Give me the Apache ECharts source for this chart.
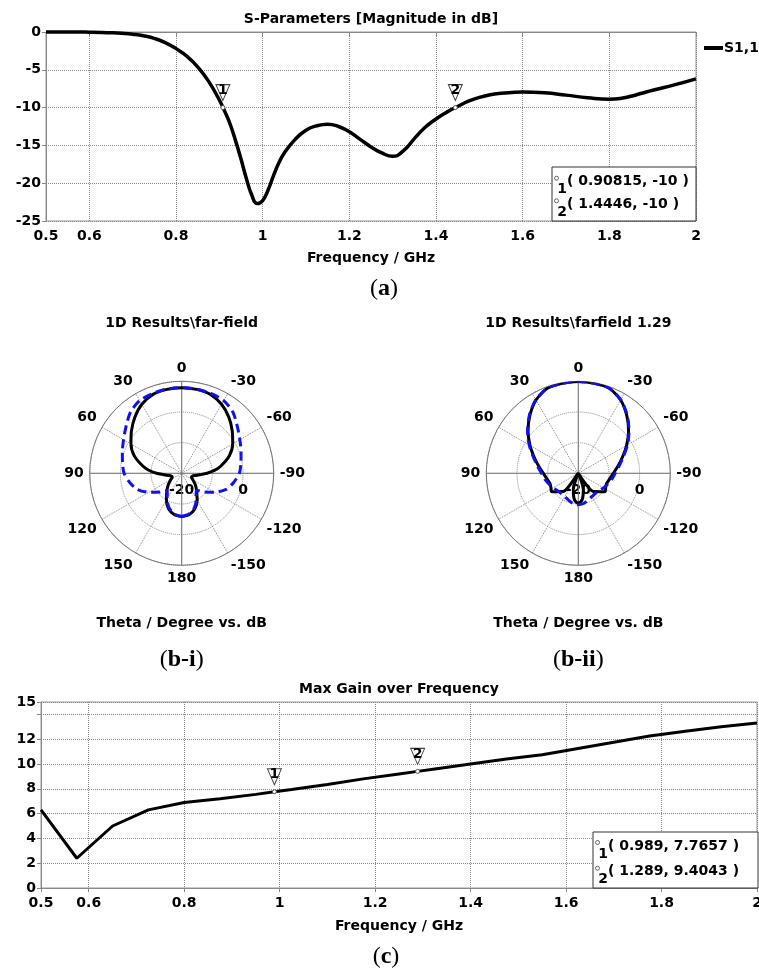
<!DOCTYPE html>
<html>
<head>
<meta charset="utf-8">
<script src="https://cdn.jsdelivr.net/npm/echarts@6/dist/echarts.min.js"></script>
<style>
  html, body { margin: 0; padding: 0; background: #fff; overflow: hidden; }
  #chart { width: 759px; height: 972px; }
</style>
</head>
<body>
<div id="chart"></div>
<script>
// ---- (a) S11 magnitude ----
const sFreq = [0.5, 0.525, 0.55, 0.575, 0.6, 0.625, 0.65, 0.675, 0.7, 0.725, 0.75, 0.775, 0.8, 0.825, 0.85, 0.875, 0.9, 0.9125, 0.925, 0.9375, 0.95, 0.9625, 0.975, 0.9875, 1.0, 1.0125, 1.025, 1.0375, 1.05, 1.075, 1.1, 1.125, 1.15, 1.175, 1.2, 1.225, 1.25, 1.275, 1.3, 1.325, 1.35, 1.375, 1.4, 1.425, 1.45, 1.475, 1.5, 1.525, 1.55, 1.575, 1.6, 1.65, 1.7, 1.75, 1.8, 1.825, 1.85, 1.875, 1.9, 1.95, 2.0];
const sDb   = [0.0, 0.0, 0.0, 0.0, -0.02, -0.05, -0.1, -0.18, -0.3, -0.5, -0.85, -1.4, -2.2, -3.2, -4.6, -6.5, -9.0, -10.5, -12.2, -14.4, -16.8, -19.4, -21.6, -22.7, -22.3, -20.9, -19.0, -17.3, -16.0, -14.2, -13.0, -12.4, -12.2, -12.5, -13.2, -14.2, -15.2, -16.0, -16.45, -15.7, -14.1, -12.6, -11.5, -10.6, -9.85, -9.15, -8.65, -8.3, -8.1, -8.0, -7.95, -8.05, -8.35, -8.7, -8.9, -8.8, -8.5, -8.1, -7.7, -7.0, -6.2];
const sMarkF = [0.90815, 1.4446];
const sMarkV = [-10, -10];
const freqTicks = [0.5, 0.6, 0.8, 1, 1.2, 1.4, 1.6, 1.8, 2];

// ---- (b) far-field cuts, theta in degrees, values in dB ----
const thBiBlack = [-180,-170,-160,-150,-140,-130,-120,-115,-110,-105,-100,-95,-90,-85,-80,-70,-60,-50,-40,-30,-20,-10,0,10,20,30,40,50,60,70,80,85,90,95,100,105,110,115,120,130,140,150,160,170,180];
const biBlack   = [-5.9,-6.3,-7.6,-9.9,-12.4,-14.2,-15.8,-16.4,-16.6,-16.4,-15.7,-14.2,-11.7,-9.3,-7.2,-3.5,-0.8,1.5,3.9,6.0,7.4,7.8,7.9,7.8,7.4,6.0,3.8,1.4,-0.9,-3.6,-7.3,-9.4,-11.8,-14.3,-15.8,-16.5,-16.7,-16.5,-15.9,-14.3,-12.5,-10.0,-7.6,-6.3,-5.9];
const thBiBlue  = [-180,-170,-160,-150,-145,-140,-135,-130,-120,-110,-100,-90,-80,-70,-60,-50,-40,-30,-20,-10,0,10,20,30,40,50,60,70,80,90,100,110,120,130,135,140,145,150,160,170,180];
const biBlue    = [-5.9,-6.5,-8.0,-10.4,-11.8,-12.6,-12.0,-10.5,-7.6,-4.6,-2.8,-1.2,-0.4,0.6,1.9,3.7,6.0,7.4,7.7,7.9,7.9,7.9,7.7,7.4,6.0,3.7,1.9,0.6,-0.4,-1.2,-2.8,-4.6,-7.6,-10.5,-12.0,-12.6,-11.8,-10.4,-8.0,-6.5,-5.9];
const thBiiBlack = [-180,-175,-170,-163,-156,-150,-143,-141,-136,-130,-124,-118,-110,-100,-90,-80,-70,-60,-50,-40,-30,-20,-10,0,10,20,30,40,50,60,70,80,90,100,110,118,124,130,136,141,143,150,156,163,170,175,180];
const biiBlack   = [-10.2,-10.7,-11.8,-14.4,-18.6,-20,-19.8,-12.4,-11.7,-10.7,-9.4,-9.9,-10.2,-9.6,-8.6,-6.9,-4.7,-1.8,1.4,4.6,7.6,9.5,9.8,9.9,9.8,9.5,7.6,4.6,1.4,-1.8,-4.7,-6.9,-8.6,-9.6,-10.2,-9.9,-9.4,-10.7,-11.7,-12.4,-19.8,-20,-18.6,-14.4,-11.8,-10.7,-10.2];
const thBiiBlue = [-180,-170,-160,-150,-140,-130,-120,-110,-100,-90,-80,-70,-60,-50,-40,-30,-20,-10,0,10,20,30,40,50,60,70,80,90,100,110,120,130,140,150,160,170,180];
const biiBlue   = [-9.7,-10.0,-10.7,-11.2,-11.4,-11.2,-10.5,-9.8,-8.9,-8.0,-6.5,-4.4,-1.5,1.6,4.8,7.7,9.5,9.8,9.9,9.8,9.5,7.7,4.8,1.6,-1.5,-4.4,-6.5,-8.0,-8.9,-9.8,-10.5,-11.2,-11.4,-11.2,-10.7,-10.0,-9.7];

// ---- (c) max gain ----
const gFreq = [0.5, 0.575, 0.65, 0.725, 0.8, 0.875, 0.95, 0.989, 1.025, 1.1, 1.175, 1.25, 1.289, 1.325, 1.4, 1.475, 1.55, 1.625, 1.7, 1.775, 1.85, 1.925, 2.0];
const gain  = [6.3, 2.4, 5.0, 6.3, 6.9, 7.2, 7.55, 7.7657, 7.95, 8.35, 8.8, 9.2, 9.4043, 9.6, 10.0, 10.4, 10.75, 11.25, 11.75, 12.25, 12.65, 13.0, 13.3];
const gMarkF = [0.989, 1.289];
const gMarkV = [7.7657, 9.4043];
const gainTicks  = [0, 2, 4, 6, 8, 10, 12, 14, 15];
const gainLabels = [0, 2, 4, 6, 8, 10, 12, 15];

const FONT = 'DejaVu Sans';
const SERIF = 'Liberation Serif';
const lbl = { fontFamily: FONT, fontWeight: 'bold', fontSize: 14, color: '#000' };
const gridLine = { show: true, lineStyle: { type: 'dotted', color: '#888', width: 1 } };
const axisLn = { show: true, lineStyle: { color: '#888', width: 1 } };
const tick = { show: true, length: 4, lineStyle: { color: '#888' } };

const zip = (a, b) => a.map((v, i) => [v, b[i]]);
const polarPts = (th, db) => th.map((t, i) => [db[i], t < 0 ? t + 360 : t]);

// inverted triangle flag with number + small ring at the marked point
function markers(fs, vs) {
  const out = [];
  fs.forEach((f, i) => {
    out.push({
      name: String(i + 1), coord: [f, vs[i]],
      symbol: 'path://M0,0 L14,0 L7,16 Z', symbolSize: [14, 16], symbolOffset: [0, -15],
      itemStyle: { color: '#fff', borderColor: '#444', borderWidth: 1 },
      label: { show: true, position: 'inside', formatter: '{b}', offset: [0, -2], ...lbl }
    });
    out.push({
      coord: [f, vs[i]], symbol: 'circle', symbolSize: 4,
      itemStyle: { color: '#fff', borderColor: '#555', borderWidth: 1 },
      label: { show: false }
    });
  });
  return out;
}

function markerBox(x, y, w, h, fs, vs, step, dy) {
  const els = [{ type: 'rect', z: 100, shape: { x, y, width: w, height: h },
                 style: { fill: '#fff', stroke: '#333', lineWidth: 1 } }];
  fs.forEach((f, i) => {
    const cy = y + dy + i * step;
    els.push({ type: 'circle', z: 101, shape: { cx: x + 4.5, cy: cy - 3.5, r: 2 },
               style: { fill: '#fff', stroke: '#666', lineWidth: 1 } });
    els.push({ type: 'text', z: 101, x: x + 10, y: cy + 8,
               style: { text: String(i + 1), font: 'bold 14px "DejaVu Sans"', fill: '#000', align: 'center', verticalAlign: 'middle' } });
    els.push({ type: 'text', z: 101, x: x + 15, y: cy,
               style: { text: '( ' + f + ', ' + vs[i] + ' )', font: 'bold 14px "DejaVu Sans"', fill: '#000', align: 'left', verticalAlign: 'middle' } });
  });
  return els;
}

function txt(x, y, text) {
  return { type: 'text', z: 100, x, y,
           style: { text, font: 'bold 14px "DejaVu Sans"', fill: '#000', align: 'center', verticalAlign: 'middle' } };
}
function panel(x, y, letter) {
  return { type: 'text', z: 100, x, y,
           style: { text: '{p|(}{b|' + letter + '}{p|)}', align: 'center', verticalAlign: 'middle',
                    rich: { p: { fontFamily: SERIF, fontSize: 24, fill: '#000' },
                            b: { fontFamily: SERIF, fontSize: 24, fontWeight: 'bold', fill: '#000' } } } };
}

const angleFmt = v => (v === 360 ? '' : String(v > 180 ? v - 360 : v));
function angleAxis(pi) {
  return { polarIndex: pi, type: 'value', min: 0, max: 360, interval: 30, startAngle: 90, clockwise: false,
           axisLine: { show: true, lineStyle: { color: '#777', width: 1 } }, axisTick: { show: false },
           axisLabel: { ...lbl, margin: 6, formatter: angleFmt }, splitLine: gridLine };
}
function radiusAxis(pi) {
  return { polarIndex: pi, type: 'value', min: -20, max: 10, interval: 10,
           axisLine: { show: false }, axisTick: { show: false }, axisLabel: { show: false }, splitLine: gridLine };
}
// second polar on the same spot, oriented to the right, only to carry the ring labels
function labelAngle(pi) {
  return { polarIndex: pi, type: 'value', min: 0, max: 360, startAngle: 0, show: false };
}
function labelRadius(pi) {
  return { polarIndex: pi, type: 'value', min: -20, max: 10, interval: 10,
           axisLine: { show: false }, axisTick: { show: false }, splitLine: { show: false },
           axisLabel: { ...lbl, margin: -17, verticalAlign: 'middle',
                        formatter: v => (v === -20 || v === 0 ? String(v) : '') } };
}
function crossLines(pi) {
  const st = { color: '#777', width: 1, type: 'solid' };
  return [
    { type: 'line', coordinateSystem: 'polar', polarIndex: pi, silent: true, symbol: 'none', z: 1,
      lineStyle: st, data: [[10, 0], [-20, 0], [10, 180]] },
    { type: 'line', coordinateSystem: 'polar', polarIndex: pi, silent: true, symbol: 'none', z: 1,
      lineStyle: st, data: [[10, 90], [-20, 90], [10, 270]] }
  ];
}
function cut(pi, th, db, color, dashed) {
  return { type: 'line', coordinateSystem: 'polar', polarIndex: pi, symbol: 'none', smooth: 0.25,
           z: dashed ? 4 : 3, data: polarPts(th, db),
           lineStyle: { color, width: 3, type: dashed ? [9, 5] : 'solid' } };
}

const option = {
  animation: false,
  backgroundColor: '#fff',
  grid: [
    { left: 46, top: 32, width: 650, height: 189, show: true, borderColor: '#999', borderWidth: 1, outerBoundsMode: 'none' },
    { left: 41, top: 702, width: 716, height: 186, show: true, borderColor: '#999', borderWidth: 1, outerBoundsMode: 'none' }
  ],
  xAxis: [
    { gridIndex: 0, type: 'value', min: 0.5, max: 2, axisLine: axisLn,
      axisTick: { ...tick, customValues: freqTicks }, axisLabel: { ...lbl, margin: 8, customValues: freqTicks },
      splitLine: gridLine, name: 'Frequency / GHz', nameLocation: 'middle', nameGap: 30, nameTextStyle: lbl },
    { gridIndex: 1, type: 'value', min: 0.5, max: 2, axisLine: axisLn,
      axisTick: { ...tick, customValues: freqTicks }, axisLabel: { ...lbl, margin: 8, customValues: freqTicks },
      splitLine: gridLine, name: 'Frequency / GHz', nameLocation: 'middle', nameGap: 31, nameTextStyle: lbl }
  ],
  yAxis: [
    { gridIndex: 0, type: 'value', min: -25, max: 0, interval: 5, axisLine: axisLn, axisTick: tick,
      axisLabel: { ...lbl, margin: 5 }, splitLine: gridLine },
    { gridIndex: 1, type: 'value', min: 0, max: 15, axisLine: axisLn,
      axisTick: { ...tick, customValues: gainTicks }, axisLabel: { ...lbl, margin: 5, customValues: gainLabels },
      splitLine: gridLine }
  ],
  polar: [
    { center: [181.7, 473.3], radius: 92 },
    { center: [578.3, 473.3], radius: 92 },
    { center: [181.7, 473.3], radius: 92 },
    { center: [578.3, 473.3], radius: 92 }
  ],
  angleAxis: [angleAxis(0), angleAxis(1), labelAngle(2), labelAngle(3)],
  radiusAxis: [radiusAxis(0), radiusAxis(1), labelRadius(2), labelRadius(3)],
  legend: {
    data: ['S1,1'], left: 699, top: 36, icon: 'rect', itemWidth: 19, itemHeight: 4, itemGap: 0,
    textStyle: { ...lbl, padding: [0, 0, 0, -4] }
  },
  series: [
    { name: 'S1,1', type: 'line', xAxisIndex: 0, yAxisIndex: 0, data: zip(sFreq, sDb),
      smooth: 0.5, symbol: 'none', clip: false, color: '#000', z: 3,
      lineStyle: { color: '#000', width: 3.5 },
      markPoint: { data: markers(sMarkF, sMarkV), z: 5 } },
    { name: 'Max Gain', type: 'line', xAxisIndex: 1, yAxisIndex: 1, data: zip(gFreq, gain),
      symbol: 'none', clip: false, color: '#000', z: 3,
      lineStyle: { color: '#000', width: 3 },
      markPoint: { data: markers(gMarkF, gMarkV), z: 5 } },
    ...crossLines(0), ...crossLines(1),
    cut(0, thBiBlack, biBlack, '#000', false),
    cut(0, thBiBlue, biBlue, '#1010f0', true),
    cut(1, thBiiBlack, biiBlack, '#000', false),
    cut(1, thBiiBlue, biiBlue, '#1010f0', true)
  ],
  graphic: [
    txt(371, 19, 'S-Parameters [Magnitude in dB]'),
    txt(181.7, 323, '1D Results\\far-field'),
    txt(578.3, 323, '1D Results\\farfield 1.29'),
    txt(181.7, 623, 'Theta / Degree vs. dB'),
    txt(578.3, 623, 'Theta / Degree vs. dB'),
    txt(399, 689, 'Max Gain over Frequency'),
    panel(384, 289, 'a'),
    panel(181.7, 660, 'b-i'),
    panel(578.3, 660, 'b-ii'),
    panel(386, 957, 'c'),
    ...markerBox(552, 167, 144, 54, sMarkF, sMarkV, 22.6, 14.7),
    ...markerBox(593, 832, 165, 56, gMarkF, gMarkV, 25.7, 14)
  ]
};

const chart = echarts.init(document.getElementById('chart'), null, { renderer: 'canvas' });
chart.setOption(option);
</script>
</body>
</html>
